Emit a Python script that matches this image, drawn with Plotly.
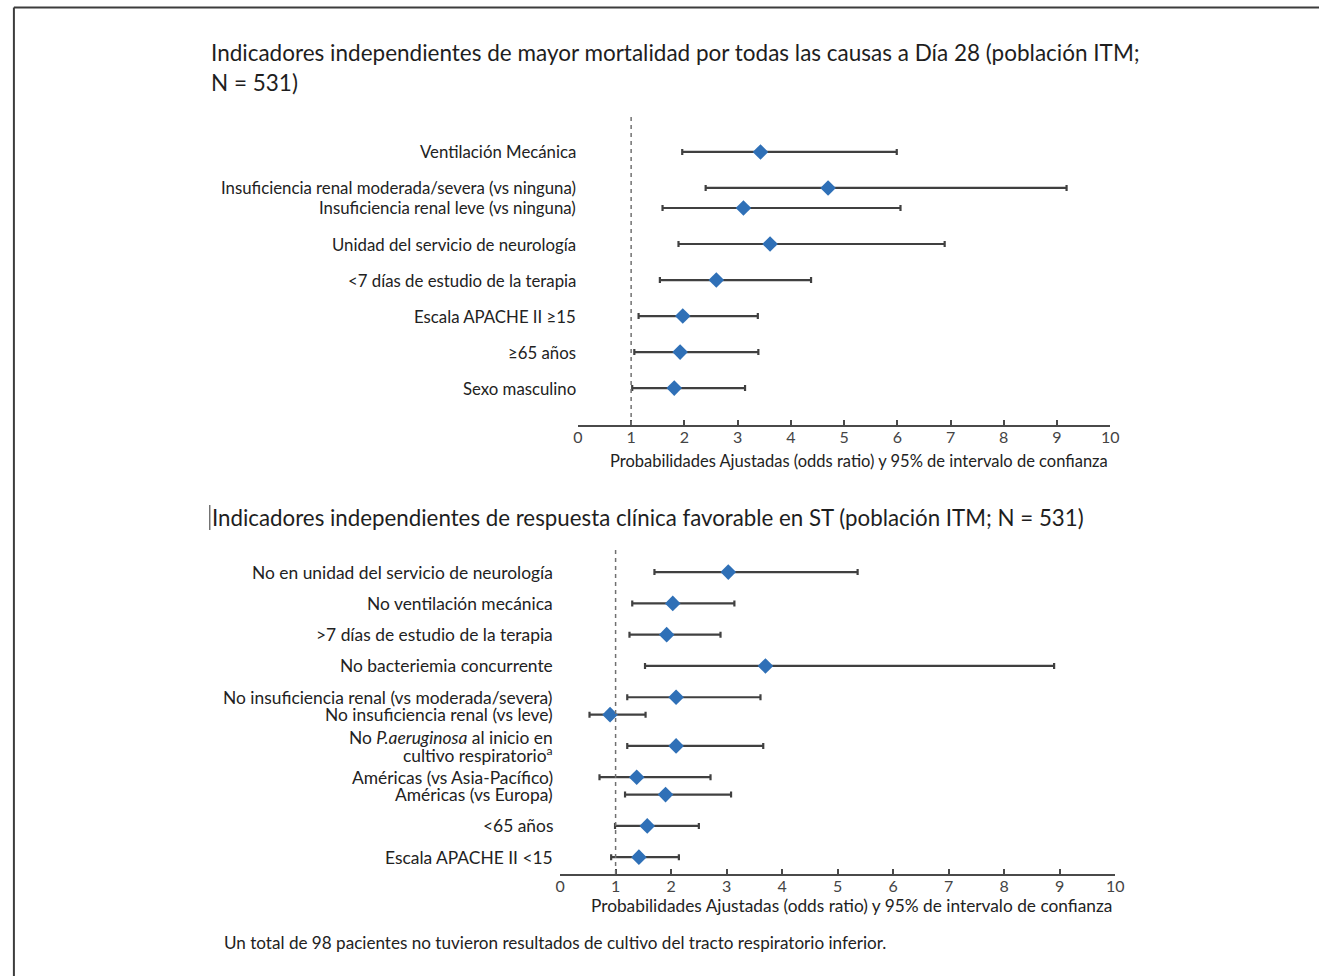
import plotly.graph_objects as go

# ---- Panel A: independent predictors of higher all-cause mortality at day 28 ----
mort_title = [
    "Indicadores independientes de mayor mortalidad por todas las causas a Día 28 (población ITM;",
    "N = 531)",
]
mort_labels = [
    "Ventilación Mecánica",
    "Insuficiencia renal moderada/severa (vs ninguna)",
    "Insuficiencia renal leve (vs ninguna)",
    "Unidad del servicio de neurología",
    "<7 días de estudio de la terapia",
    "Escala APACHE II ≥15",
    "≥65 años",
    "Sexo masculino",
]
mort_group = [0, 1, 1, 2, 3, 4, 5, 6]  # rows sharing a group are drawn close together
mort_or = [3.43, 4.70, 3.11, 3.61, 2.60, 1.97, 1.92, 1.81]
mort_lo = [1.96, 2.40, 1.59, 1.89, 1.54, 1.14, 1.06, 1.02]
mort_hi = [5.99, 9.18, 6.06, 6.89, 4.38, 3.38, 3.39, 3.14]

# ---- Panel B: independent predictors of favourable clinical response ----
resp_title = "Indicadores independientes de respuesta clínica favorable en ST (población ITM; N = 531)"
resp_labels = [
    "No en unidad del servicio de neurología",
    "No ventilación mecánica",
    ">7 días de estudio de la terapia",
    "No bacteriemia concurrente",
    "No insuficiencia renal (vs moderada/severa)",
    "No insuficiencia renal (vs leve)",
    "No <i>P.aeruginosa</i> al inicio en<br>cultivo respiratorio<sup>a</sup>",
    "Américas (vs Asia-Pacífico)",
    "Américas (vs Europa)",
    "<65 años",
    "Escala APACHE II <15",
]
resp_group = [0, 1, 2, 3, 4, 4, 5, 6, 6, 7, 8]
resp_or = [3.03, 2.03, 1.92, 3.70, 2.09, 0.90, 2.09, 1.38, 1.90, 1.57, 1.42]
resp_lo = [1.70, 1.30, 1.25, 1.53, 1.21, 0.53, 1.21, 0.71, 1.17, 0.99, 0.92]
resp_hi = [5.36, 3.14, 2.89, 8.90, 3.61, 1.54, 3.66, 2.71, 3.08, 2.50, 2.14]

x_ticks = list(range(0, 11))
x_title = "Probabilidades Ajustadas (odds ratio) y 95% de intervalo de confianza"
footnote = "Un total de 98 pacientes no tuvieron resultados de cultivo del tracto respiratorio inferior."

W, H = 1328, 976
FONT = "Lato, 'Open Sans', sans-serif"
TEXT = "#222222"
BAR = "#404040"
DIAMOND = "#2f70b7"


def px_x(p):
    return p / W


def px_y(p):
    return 1 - p / H


def row_positions(groups, pair_step=0.556):
    pos = [0.0]
    for a, b in zip(groups, groups[1:]):
        pos.append(pos[-1] + (pair_step if a == b else 1.0))
    return pos


mort_y = row_positions(mort_group)
resp_y = row_positions(resp_group)

fig = go.Figure()


def add_panel(xref, yref, ys, est, lo, hi):
    fig.add_trace(go.Scatter(
        x=est, y=ys, mode="markers", xaxis=xref, yaxis=yref,
        marker=dict(symbol="diamond", size=12, color=DIAMOND),
        error_x=dict(type="data", symmetric=False,
                     array=[h - e for h, e in zip(hi, est)],
                     arrayminus=[e - l for e, l in zip(est, lo)],
                     color=BAR, thickness=2.2, width=3),
        showlegend=False, hoverinfo="x+y",
    ))


add_panel("x", "y", mort_y, mort_or, mort_lo, mort_hi)
add_panel("x2", "y2", resp_y, resp_or, resp_lo, resp_hi)

axis_common = dict(
    range=[0, 10], tickvals=x_ticks, ticktext=[str(t) for t in x_ticks],
    showgrid=False, zeroline=False, showline=True, linecolor="#4a4a4a", linewidth=2,
    ticks="inside", ticklen=5, tickcolor="#4a4a4a", tickwidth=1.5,
    ticklabelstandoff=-3,
    tickfont=dict(family=FONT, size=16, color="#444"), fixedrange=True,
)

fig.update_layout(
    width=W, height=H, margin=dict(l=0, r=0, t=0, b=0),
    paper_bgcolor="white", plot_bgcolor="white",
    xaxis=dict(domain=[px_x(579), px_x(1117)], anchor="y", **axis_common),
    yaxis=dict(domain=[px_y(425), px_y(117)], range=[7.58, -0.97], visible=False, anchor="x"),
    xaxis2=dict(domain=[px_x(561), px_x(1122)], anchor="y2", **axis_common),
    yaxis2=dict(domain=[px_y(874), px_y(548)], range=[9.65, -0.77], visible=False, anchor="x2"),
)

ann = []
title_font = dict(family=FONT, size=22.5, color="#1e1e1e")
# panel titles
ann.append(dict(text=mort_title[0], x=px_x(206), y=px_y(52), xref="paper", yref="paper",
                xanchor="left", yanchor="middle", showarrow=False, font=title_font))
ann.append(dict(text=mort_title[1], x=px_x(206), y=px_y(83), xref="paper", yref="paper",
                xanchor="left", yanchor="middle", showarrow=False, font=title_font))
ann.append(dict(text=resp_title, x=px_x(207), y=px_y(517), xref="paper", yref="paper",
                xanchor="left", yanchor="middle", showarrow=False,
                font=dict(family=FONT, size=22.3, color="#1e1e1e")))


def add_labels(labels, ys, xpx, yref, size, px_per_unit):
    for lab, yv in zip(labels, ys):
        lines = lab.split("<br>")
        step = 17.0 / px_per_unit  # tight line spacing for wrapped labels
        offs = [(i - (len(lines) - 1) / 2) * step for i in range(len(lines))]
        for line, off in zip(lines, offs):
            ann.append(dict(text=line, x=px_x(xpx), y=yv + off, xref="paper", yref=yref,
                            xanchor="right", yanchor="middle", align="right", showarrow=False,
                            font=dict(family=FONT, size=size, color=TEXT)))


add_labels(mort_labels, mort_y, 579, "y", 16.8, 36.0)
add_labels(resp_labels, resp_y, 556, "y2", 17.4, 31.28)

# axis titles
ann.append(dict(text=x_title, x=px_x(863), y=px_y(461), xref="paper", yref="paper",
                xanchor="center", yanchor="middle", showarrow=False,
                font=dict(family=FONT, size=16.5, color=TEXT)))
ann.append(dict(text=x_title, x=px_x(856), y=px_y(905), xref="paper", yref="paper",
                xanchor="center", yanchor="middle", showarrow=False,
                font=dict(family=FONT, size=17.3, color=TEXT)))

# footnote
ann.append(dict(text=footnote, x=px_x(219), y=px_y(942), xref="paper", yref="paper",
                xanchor="left", yanchor="middle", showarrow=False,
                font=dict(family=FONT, size=17.1, color=TEXT)))

fig.update_layout(annotations=ann)

shapes = []
# reference line at OR = 1
for xr, yr in (("x", "y domain"), ("x2", "y2 domain")):
    shapes.append(dict(type="line", xref=xr, yref=yr, x0=1, x1=1, y0=0, y1=1,
                       line=dict(color="#707070", width=1.5, dash="4px,4px")))
# outer frame (top and left edges)
shapes.append(dict(type="line", xref="paper", yref="paper",
                   x0=px_x(9), x1=1, y0=px_y(7.5), y1=px_y(7.5),
                   line=dict(color="#3c3c3c", width=2)))
shapes.append(dict(type="line", xref="paper", yref="paper",
                   x0=px_x(9), x1=px_x(9), y0=px_y(7.5), y1=0,
                   line=dict(color="#3c3c3c", width=2)))
# text cursor before the second title
shapes.append(dict(type="line", xref="paper", yref="paper",
                   x0=px_x(207), x1=px_x(207), y0=px_y(505), y1=px_y(530),
                   line=dict(color="#333", width=1)))
fig.update_layout(shapes=shapes)

fig.write_html("out.html")
